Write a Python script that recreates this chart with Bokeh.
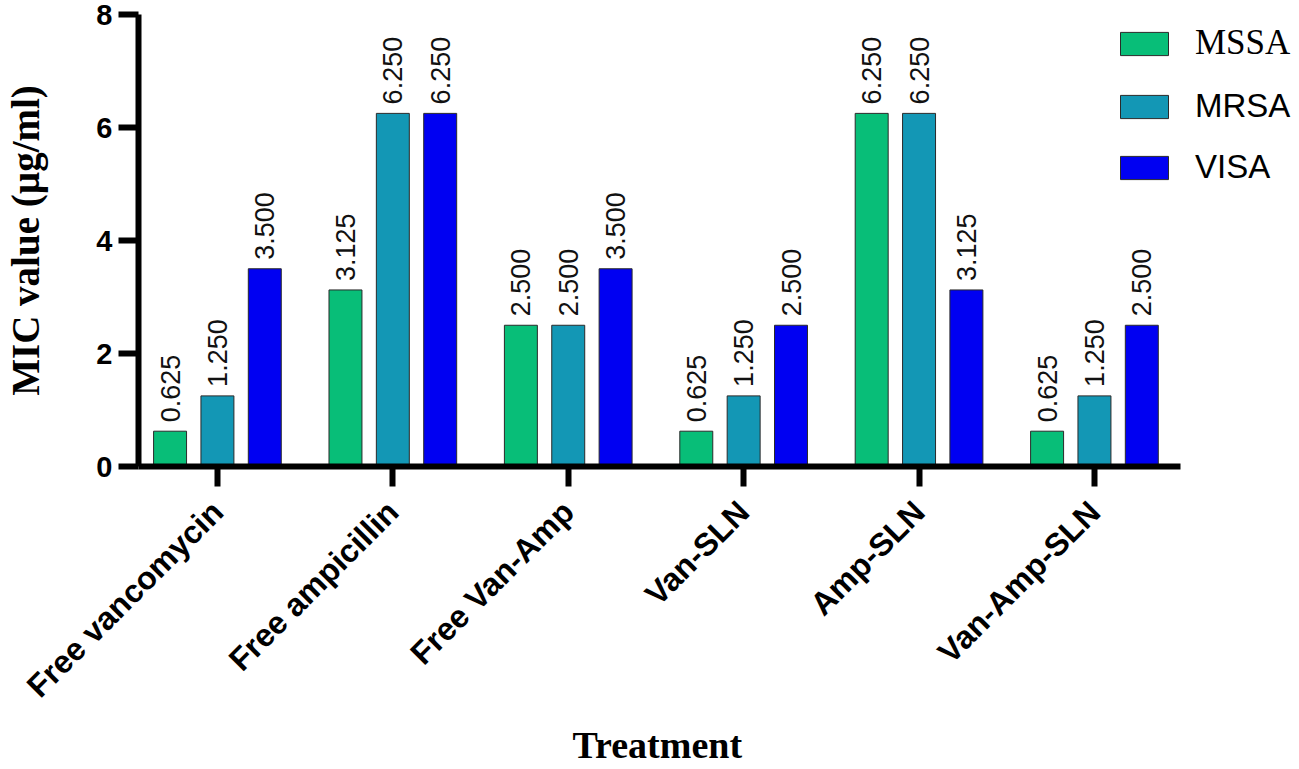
import math
from bokeh.plotting import figure
from bokeh.models import Range1d, FixedTicker, Legend, LegendItem, ColumnDataSource, Title
from bokeh.transform import dodge
from bokeh.core.properties import value
from bokeh.embed import file_html
from bokeh.resources import INLINE

treatments = ["Free vancomycin", "Free ampicillin", "Free Van-Amp", "Van-SLN", "Amp-SLN", "Van-Amp-SLN"]
mssa = [0.625, 3.125, 2.5, 0.625, 6.25, 0.625]
mrsa = [1.25, 6.25, 2.5, 1.25, 6.25, 1.25]
visa = [3.5, 6.25, 3.5, 2.5, 3.125, 2.5]
series = ["MSSA", "MRSA", "VISA"]
y_ticks = [0, 2, 4, 6, 8]

colors = ["#08BE78", "#1397B5", "#0000F2"]
offsets = [-0.27, 0.0, 0.27]
legend_fonts = ["Liberation Serif", "Liberation Sans", "Liberation Sans"]
legend_sizes = ["35px", "33px", "33px"]

pos = list(range(len(treatments)))
data = dict(pos=pos, treatment=treatments, MSSA=mssa, MRSA=mrsa, VISA=visa)
for name, vals in zip(series, [mssa, mrsa, visa]):
    data[name + "_lbl"] = ["%.3f" % v for v in vals]
source = ColumnDataSource(data)

p = figure(
    x_range=Range1d(-0.45, 6.169),
    y_range=Range1d(0, 8),
    width=1299, height=769,
    output_backend="svg", toolbar_location=None,
    min_border_left=138, min_border_right=0, min_border_top=14, min_border_bottom=303,
)
p.outline_line_color = None
p.xgrid.grid_line_color = None
p.ygrid.grid_line_color = None
p.background_fill_color = "white"
p.border_fill_color = "white"

renderers = []
for name, off, col in zip(series, offsets, colors):
    r = p.vbar(x=dodge("pos", off), top=name, width=0.188,
               source=source, fill_color=col, line_color="#2a2a2a", line_width=1)
    renderers.append(r)
    p.text(x=dodge("pos", off), y=name, text=name + "_lbl",
           source=source, angle=math.pi / 2, text_align="left", text_baseline="middle",
           y_offset=-9, text_font=value("Liberation Sans"), text_font_size="27px",
           text_color="#111111")

# axes
for ax in (p.xaxis[0], p.yaxis[0]):
    ax.axis_line_width = 6
    ax.axis_line_color = "black"
    ax.major_tick_line_width = 6
    ax.major_tick_line_color = "black"
    ax.major_tick_out = 20
    ax.major_tick_in = 0
    ax.minor_tick_line_color = None
    ax.major_label_text_font = "Liberation Sans"
    ax.major_label_text_font_style = "bold"
    ax.major_label_text_color = "black"
    ax.axis_label_text_font = "Liberation Serif"
    ax.axis_label_text_font_style = "bold"
    ax.axis_label_text_color = "black"

p.yaxis.ticker = FixedTicker(ticks=y_ticks)
p.yaxis.major_label_text_font_size = "29px"
p.yaxis.major_label_standoff = 6
p.yaxis.axis_label = "MIC value (µg/ml)"
p.yaxis.axis_label_text_font_size = "39px"
p.yaxis.axis_label_standoff = 46

p.xaxis.ticker = FixedTicker(ticks=pos)
p.xaxis.major_label_overrides = {i: t for i, t in zip(pos, treatments)}
p.xaxis.bounds = (-0.45, 5.49)
p.xaxis.major_label_orientation = math.pi / 4
p.xaxis.major_label_text_font_size = "32px"
p.xaxis.major_label_standoff = 20

x_title = Title(text="Treatment", align="left", offset=434, standoff=4,
                text_font="Liberation Serif", text_font_style="bold",
                text_font_size="38px", text_color="black")
p.add_layout(x_title, "below")

legend_y = [403, 341, 280]
for name, r, font, fs, ly in zip(series, renderers, legend_fonts, legend_sizes, legend_y):
    lg = Legend(items=[LegendItem(label=name, renderers=[r])], location=(976, ly),
                glyph_width=60, glyph_height=29, label_standoff=21,
                label_text_font=font, label_text_font_size=fs, label_text_color="black",
                border_line_color=None, background_fill_alpha=0, padding=0, margin=0)
    p.add_layout(lg, "center")

open("out.html", "w").write(file_html(p, INLINE))
